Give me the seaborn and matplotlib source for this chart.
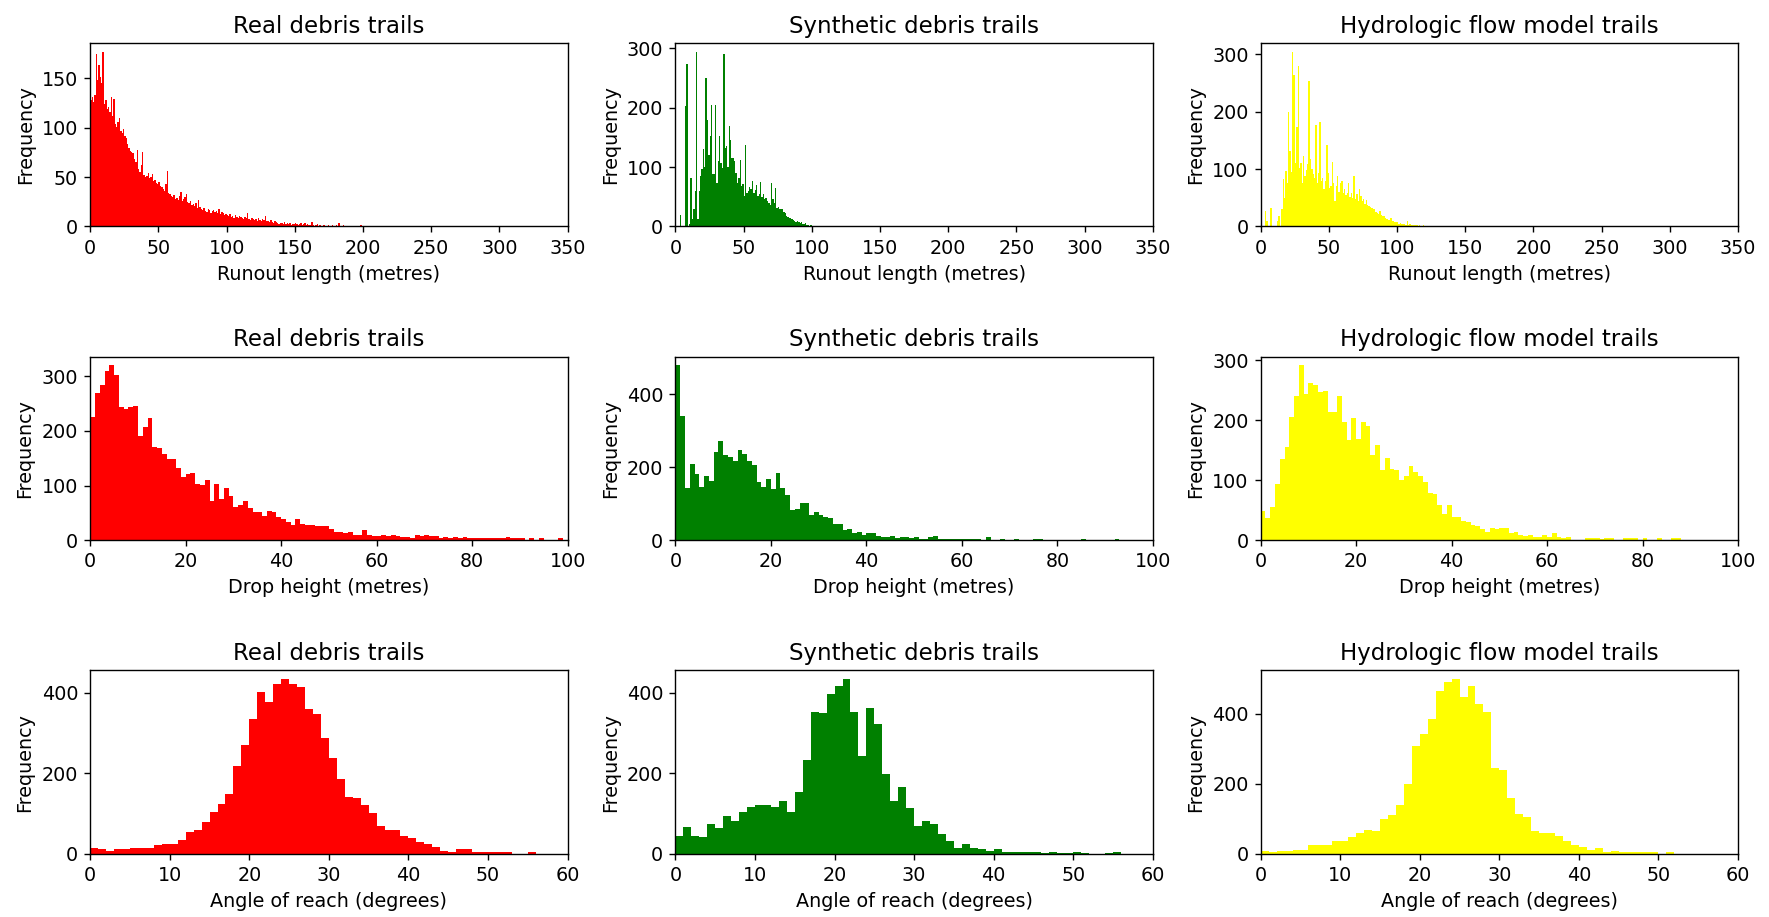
import numpy as np
import pandas as pd
import matplotlib.pyplot as plt
import seaborn as sns

# bin counts, 1 unit wide bins starting at 0
real_runout = [
    128, 131, 126, 133, 175, 148, 164, 152, 145, 177,
    124, 128, 119, 121, 116, 131, 112, 129, 104, 101,
    106, 110, 97, 95, 99, 92, 90, 84, 80, 77,
    75, 74, 68, 65, 78, 58, 55, 62, 75, 52,
    50, 51, 54, 49, 50, 53, 46, 47, 44, 43,
    45, 41, 40, 38, 36, 43, 56, 34, 33, 31,
    30, 32, 28, 29, 27, 31, 35, 26, 28, 30,
    33, 25, 24, 26, 22, 23, 21, 24, 19, 27,
    20, 18, 17, 19, 16, 15, 18, 17, 14, 16,
    17, 15, 16, 14, 18, 13, 15, 14, 12, 13,
    12, 11, 13, 10, 11, 9, 12, 10, 9, 11,
    10, 9, 8, 10, 9, 14, 8, 7, 9, 8,
    7, 8, 6, 9, 7, 6, 8, 7, 11, 6,
    6, 5, 7, 5, 4, 6, 5, 4, 3, 4,
    4, 3, 5, 3, 4, 3, 4, 2, 3, 3,
    4, 3, 2, 3, 4, 2, 3, 4, 2, 3,
    2, 2, 5, 2, 1, 2, 3, 1, 2, 1,
    1, 2, 1, 1, 2, 1, 1, 2, 1, 1,
    2, 1, 4, 1, 1, 2, 0, 1, 1, 0,
    1, 1, 0, 1, 1, 0, 1, 1, 2, 1,
    1, 1, 0, 0, 0, 0, 0, 0, 0, 0,
    1, 0, 1, 1, 0, 1, 1, 0, 0, 0,
    1, 0, 0, 0, 0, 0, 0, 0, 0, 0,
    0, 0, 1, 1, 0, 1, 1, 1, 0, 1,
    1, 0, 1, 0, 1, 1, 0, 1, 1, 0,
    1, 0, 0, 0, 0, 0, 0, 0, 0, 0,
    0, 0, 0, 0, 0, 1, 0, 0, 0, 0,
    1, 0, 0, 1, 0, 1, 0, 0, 1, 0,
    0, 0, 0, 0, 0, 0, 0, 0, 0, 0,
    1, 1, 0, 0, 0, 0, 0, 0, 0, 0,
    0, 0, 0, 0, 0, 0, 0, 0, 0, 0,
    0, 0, 0, 0, 0, 0, 0, 0, 1, 0,
    0, 0, 0, 0, 0, 0, 0, 0, 0, 0,
    0, 0, 0, 0, 0, 0, 0, 0, 0, 0,
    1, 0, 0, 0, 0, 0, 0, 0, 0, 1,
]

synth_runout = [
    0, 0, 0, 19, 0, 0, 0, 202, 274, 0,
    5, 81, 12, 30, 60, 294, 13, 60, 85, 96,
    130, 100, 250, 179, 120, 152, 205, 88, 88, 205,
    74, 110, 152, 107, 98, 291, 132, 135, 100, 170,
    146, 116, 116, 110, 90, 74, 82, 112, 68, 72,
    51, 137, 57, 60, 66, 63, 77, 57, 62, 70,
    51, 55, 75, 50, 54, 46, 48, 43, 40, 37,
    74, 46, 40, 64, 31, 33, 29, 30, 29, 25,
    23, 18, 16, 15, 14, 13, 11, 9, 8, 9,
    8, 6, 7, 5, 4, 6, 3, 2, 1, 2,
    1, 0, 1, 1, 0, 1, 1, 0, 1, 0,
    1, 0, 1, 0, 0, 1, 0, 1, 0, 0,
    1, 0, 0, 1, 0, 0, 0, 0, 1, 0,
    0, 0, 0, 1, 0, 0, 0, 0, 1, 0,
    0, 0, 0, 0, 0, 0, 0, 0, 0, 0,
    0, 0, 1, 0, 0, 0, 0, 0, 1, 0,
    0, 1, 0, 0, 0, 1,
]

hydro_runout = [
    0, 0, 0, 27, 10, 0, 0, 33, 0, 0,
    0, 0, 10, 18, 0, 31, 83, 50, 96, 75,
    200, 131, 95, 304, 264, 111, 174, 279, 102, 111,
    76, 122, 88, 98, 108, 254, 117, 100, 91, 85,
    177, 76, 93, 182, 80, 85, 65, 80, 142, 93,
    67, 70, 112, 76, 44, 70, 88, 60, 76, 79,
    58, 65, 55, 59, 76, 52, 59, 50, 88, 48,
    56, 45, 66, 53, 44, 47, 40, 46, 38, 36,
    34, 33, 30, 30, 26, 24, 22, 27, 20, 19,
    18, 15, 13, 12, 11, 14, 10, 10, 8, 7,
    7, 5, 6, 5, 4, 4, 3, 9, 3, 4,
    2, 3, 3, 3, 2, 1, 2, 1, 1, 2,
    1, 0, 1, 1, 0, 1, 0, 0, 1, 0,
    0, 1, 0, 0, 1,
]

real_drop = [
    226, 270, 285, 310, 320, 302, 243, 241, 243, 245,
    191, 208, 223, 171, 168, 158, 148, 148, 133, 116,
    121, 123, 103, 101, 110, 71, 103, 75, 95, 80,
    60, 65, 71, 58, 51, 51, 45, 53, 51, 43,
    38, 33, 28, 38, 30, 28, 28, 25, 25, 25,
    21, 15, 15, 13, 15, 10, 10, 18, 10, 8,
    8, 10, 8, 10, 8, 5, 5, 3, 10, 8,
    10, 8, 8, 3, 5, 3, 5, 3, 5, 3,
    3, 3, 3, 3, 3, 3, 3, 5, 3, 3,
    3, 1, 3, 1, 3, 1, 0, 1, 3, 1,
]

synth_drop = [
    479, 340, 142, 210, 180, 146, 177, 161, 243, 273,
    233, 229, 217, 246, 236, 217, 206, 158, 146, 168,
    139, 184, 142, 123, 83, 86, 102, 102, 68, 76,
    68, 64, 60, 45, 45, 27, 31, 19, 23, 15,
    19, 19, 12, 8, 8, 12, 5, 8, 8, 5,
    8, 4, 4, 8, 12, 4, 4, 4, 3, 4,
    3, 4, 3, 4, 1, 8, 1, 1, 4, 1,
    0, 4, 1, 1, 1, 4, 4, 1, 0, 1,
    0, 0, 0, 0, 0, 4, 0, 0, 0, 0,
    0, 0, 4,
]

hydro_drop = [
    49, 37, 55, 94, 135, 155, 205, 240, 291, 244,
    262, 258, 246, 248, 214, 214, 240, 196, 166, 203,
    168, 196, 190, 142, 158, 116, 137, 118, 116, 100,
    107, 123, 114, 107, 96, 78, 76, 58, 44, 58,
    39, 39, 32, 30, 25, 23, 19, 14, 21, 19,
    21, 21, 12, 14, 9, 7, 9, 5, 5, 9,
    5, 12, 5, 3, 5, 1, 0, 1, 3, 3,
    3, 2, 3, 3, 1, 1, 3, 3, 3, 1,
    3, 0, 0, 3, 0, 0, 3, 3,
]

real_angle = [
    15, 11, 7, 11, 11, 14, 14, 14, 21, 25,
    25, 35, 55, 59, 79, 103, 124, 148, 219, 270,
    336, 403, 376, 421, 434, 421, 414, 359, 346, 287,
    237, 186, 141, 138, 120, 100, 69, 59, 59, 45,
    38, 28, 25, 17, 7, 4, 11, 11, 4, 4,
    4, 4, 4, 0, 0, 4,
]

synth_angle = [
    45, 66, 45, 42, 73, 63, 93, 82, 103, 117,
    120, 120, 117, 130, 103, 154, 233, 353, 349, 397,
    417, 434, 353, 243, 363, 322, 199, 130, 165, 113,
    69, 82, 73, 49, 31, 14, 25, 14, 11, 7,
    11, 4, 4, 4, 4, 4, 2, 4, 1, 1,
    4, 1, 0, 0, 1, 4,
]

hydro_angle = [
    8, 5, 8, 8, 12, 12, 25, 25, 25, 36,
    36, 48, 60, 67, 64, 100, 111, 139, 200, 308,
    343, 387, 465, 492, 500, 448, 481, 430, 405, 245,
    240, 159, 115, 104, 64, 60, 60, 52, 36, 25,
    20, 12, 16, 5, 8, 5, 5, 5, 5, 5,
    0, 5,
]

titles = ["Real debris trails", "Synthetic debris trails", "Hydrologic flow model trails"]
colors = ["red", "green", "yellow"]
xlabels = ["Runout length (metres)", "Drop height (metres)", "Angle of reach (degrees)"]
xlims = [350, 100, 60]

rows = [
    [real_runout, synth_runout, hydro_runout],
    [real_drop, synth_drop, hydro_drop],
    [real_angle, synth_angle, hydro_angle],
]

plt.rcParams["font.size"] = 11

fig, axes = plt.subplots(3, 3, figsize=(1769 / 125, 917 / 125), dpi=125)
fig.subplots_adjust(left=0.051, right=0.9825, top=0.953, bottom=0.069,
                    wspace=0.226, hspace=0.71)

for r in range(3):
    for c in range(3):
        ax = axes[r, c]
        counts = np.array(rows[r][c], dtype=float)
        edges = list(range(len(counts) + 1))
        df = pd.DataFrame({"value": np.arange(len(counts)) + 0.5, "count": counts})
        sns.histplot(ax=ax, data=df, x="value", weights="count", bins=edges,
                     color=colors[c], alpha=1, linewidth=0, element="bars")
        ax.set_xlim(0, xlims[r])
        ax.set_ylim(0, counts.max() * 1.05)
        ax.set_title(titles[c], fontsize=13.2)
        ax.set_xlabel(xlabels[r])
        ax.set_ylabel("Frequency")

fig.savefig("out.png", dpi=125)
